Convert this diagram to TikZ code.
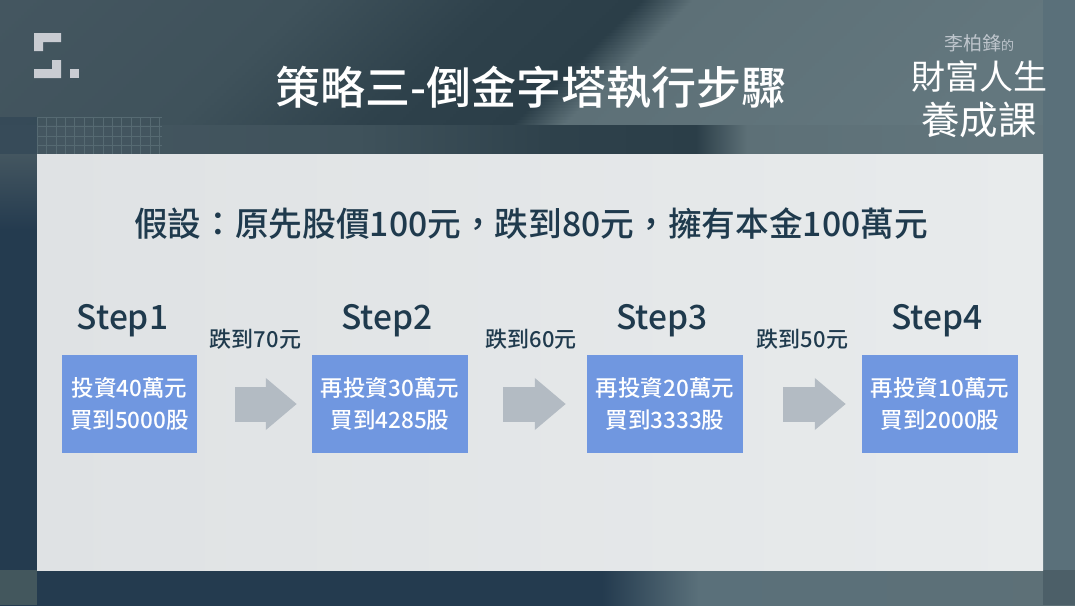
\documentclass[tikz,border=0pt]{standalone}
\usepackage{fontspec}
\setmainfont{Noto Sans CJK TC}
\newfontfamily\mediumfont{Noto Sans CJK TC Medium}
\usetikzlibrary{positioning, arrows.meta}
\definecolor{boxc}{HTML}{7097E0}
\definecolor{inkc}{HTML}{1F3A4D}
\definecolor{arrowc}{HTML}{B3BBC3}
\definecolor{logoc}{HTML}{C9CCD2}
\definecolor{gridc}{HTML}{566A72}
\definecolor{edgec}{HTML}{5A707A}
\definecolor{navyc}{HTML}{243B4F}
\definecolor{panelleft}{HTML}{DFE2E4}
\definecolor{panelright}{HTML}{E8EBEC}
\definecolor{bgslate}{HTML}{445660}
\definecolor{bgmid}{HTML}{3F525B}
\definecolor{bgdark}{HTML}{2E414B}
\definecolor{bgdeep}{HTML}{2B3E48}
\definecolor{bglight}{HTML}{5D7077}
\definecolor{bgpale}{HTML}{63777E}
\definecolor{cornerc}{HTML}{43575D}
\pgfdeclarehorizontalshading{topband}{100bp}{
  color(0bp)=(bgslate);
  color(32bp)=(bgslate);
  color(42bp)=(bgmid);
  color(48.75bp)=(bgdark);
  color(53.5bp)=(bgdeep);
  color(55.25bp)=(bglight);
  color(68bp)=(bgpale);
  color(100bp)=(bgpale)}
\pgfdeclarehorizontalshading{lowband}{100bp}{
  color(0bp)=(navyc);
  color(53bp)=(navyc);
  color(57.5bp)=(edgec);
  color(75bp)=(bglight);
  color(100bp)=(bglight)}
\begin{document}
\begin{tikzpicture}[x=1pt,y=-1pt,
boxstep/.style={
  draw=none, fill=boxc, text=white, minimum height=98pt,
  align=center, font=\mediumfont\fontsize{22.5}{32}\selectfont
},
steplabel/.style={text=inkc, font=\mediumfont\fontsize{33.5}{36}\selectfont},
droplabel/.style={text=inkc, font=\mediumfont\fontsize{22}{24}\selectfont},
blockarrow/.style={
  draw=arrowc, line width=35pt,
  -{Triangle[length=31pt,width=50pt,fill=arrowc]}
}]
\useasboundingbox (0,0) rectangle (1075,605);
% background
\begin{scope}
\clip (0,0) rectangle (1075,154);
\foreach \row in {0,3,...,123}
  \shade[shading=topband, xshift={-1.04*\row}] (-200,\row) rectangle (1275,\row+3.3);
\shade[shading=topband, xshift=55] (-200,125) rectangle (1275,154);
\end{scope}
\shade[shading=lowband] (0,570) rectangle (1075,605);
\fill[navyc] (0,154) rectangle (37,570);
\shade[top color=bgslate, bottom color=navyc] (0,154) rectangle (37,230);
\fill[edgec] (1043,0) rectangle (1075,570);
\fill[fill=edgec!85!black] (1043,570) rectangle (1075,605);
\fill[fill=cornerc] (0,570) rectangle (37,605);
\fill[navyc, opacity=.4] (0,117) rectangle (37,154);
\foreach \col in {0,...,13}
  \draw[gridc, line width=.6pt] (37+9.4*\col,117) -- (37+9.4*\col,154);
\foreach \row in {0,...,4}
  \draw[gridc, line width=.6pt] (37,117+9.4*\row) -- (162,117+9.4*\row);
\shade[left color=panelleft, right color=panelright] (37,154) rectangle (1043,570);
% logo
\fill[logoc] (34,33) -- (61,33) -- (61,42) -- (43,42) -- (43,51) -- (34,51) -- cycle;
\fill[logoc] (34,78) -- (61,78) -- (61,60) -- (52,60) -- (52,69) -- (34,69) -- cycle;
\fill[logoc] (70,69) rectangle (79,78);
% titles
\node (title) [text=white, font=\mediumfont\fontsize{45}{48}\selectfont] at (531,87) {策略三-倒金字塔執行步驟};
\node (author) [text=arrowc!85!white, font=\fontsize{19}{24}\selectfont] at (979,43) {李柏鋒{\fontsize{13}{24}\selectfont 的}};
\node (brand) [text=white, font=\fontsize{34}{40}\selectfont] at (979,76) {財富人生};
\node (course) [text=white, font=\fontsize{38.5}{44}\selectfont] at (979,120) {養成課};
\node (premise) [text=inkc, font=\mediumfont\fontsize{33.7}{36}\selectfont] at (531,224) {假設：原先股價100元，跌到80元，擁有本金100萬元};
% steps
\node (buy1) [boxstep, minimum width=135pt] at (129.5,404) {投資40萬元\\買到5000股};
\node (buy2) [boxstep, minimum width=156pt] at (390,404) {再投資30萬元\\買到4285股};
\node (buy3) [boxstep, minimum width=156pt] at (665,404) {再投資20萬元\\買到3333股};
\node (buy4) [boxstep, minimum width=156pt] at (940,404) {再投資10萬元\\買到2000股};
\node (step1) [steplabel, above=14pt of buy1, xshift=-7pt] {Step1};
\node (step2) [steplabel, above=14pt of buy2, xshift=-3pt] {Step2};
\node (step3) [steplabel, above=14pt of buy3, xshift=-3pt] {Step3};
\node (step4) [steplabel, above=14pt of buy4, xshift=-3pt] {Step4};
\node (drop1) [droplabel] at (255.5,339) {跌到70元};
\node (drop2) [droplabel] at (531,339) {跌到60元};
\node (drop3) [droplabel] at (802.5,339) {跌到50元};
\draw[blockarrow, shorten <=38pt, shorten >=15pt] (buy1) -- (buy2);
\draw[blockarrow, shorten <=35pt, shorten >=21pt] (buy2) -- (buy3);
\draw[blockarrow, shorten <=40pt, shorten >=16pt] (buy3) -- (buy4);
\end{tikzpicture}
\end{document}
